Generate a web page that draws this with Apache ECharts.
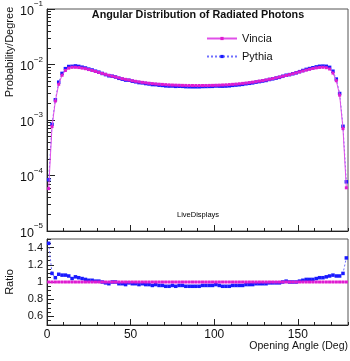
<!DOCTYPE html>
<html><head><meta charset="utf-8">
<script src="https://cdn.jsdelivr.net/npm/echarts@6/dist/echarts.min.js"></script>
<style>html,body{margin:0;padding:0;background:#fff}#c{width:350px;height:361px}</style>
</head><body><div id="c"></div>
<script>
const angles = [1,3,5,7,9,11,13,15,17,19,21,23,25,27,29,31,33,35,37,39,41,43,45,47,49,51,53,55,57,59,61,63,65,67,69,71,73,75,77,79,81,83,85,87,89,91,93,95,97,99,101,103,105,107,109,111,113,115,117,119,121,123,125,127,129,131,133,135,137,139,141,143,145,147,149,151,153,155,157,159,161,163,165,167,169,171,173,175,177,179];
const vincia = [5.8e-5,7.6e-4,2.2e-3,4.4e-3,6.4e-3,7.8e-3,8.6e-3,8.9e-3,8.9e-3,8.8e-3,8.6e-3,8.4e-3,8.1e-3,7.8e-3,7.5e-3,7.2e-3,6.9e-3,6.65e-3,6.4e-3,6.15e-3,5.95e-3,5.75e-3,5.55e-3,5.4e-3,5.25e-3,5.1e-3,4.98e-3,4.87e-3,4.77e-3,4.68e-3,4.6e-3,4.53e-3,4.47e-3,4.42e-3,4.38e-3,4.34e-3,4.3e-3,4.27e-3,4.25e-3,4.23e-3,4.21e-3,4.2e-3,4.19e-3,4.18e-3,4.18e-3,4.18e-3,4.18e-3,4.19e-3,4.2e-3,4.21e-3,4.23e-3,4.25e-3,4.28e-3,4.31e-3,4.35e-3,4.39e-3,4.44e-3,4.5e-3,4.57e-3,4.64e-3,4.72e-3,4.81e-3,4.91e-3,5.02e-3,5.14e-3,5.27e-3,5.42e-3,5.58e-3,5.75e-3,5.93e-3,6.13e-3,6.34e-3,6.57e-3,6.82e-3,7.08e-3,7.36e-3,7.64e-3,7.92e-3,8.2e-3,8.48e-3,8.7e-3,8.85e-3,8.9e-3,8.75e-3,8.3e-3,7.0e-3,5.1e-3,2.8e-3,7.0e-4,6.0e-5];
const pythia = [8.4e-5,8.36e-4,2.31e-3,4.8e-3,6.91e-3,8.42e-3,9.2e-3,9.26e-3,9.43e-3,9.24e-3,8.94e-3,8.65e-3,8.26e-3,7.96e-3,7.58e-3,7.27e-3,6.9e-3,6.58e-3,6.27e-3,6.15e-3,5.95e-3,5.64e-3,5.44e-3,5.24e-3,5.2e-3,5.0e-3,4.88e-3,4.72e-3,4.67e-3,4.54e-3,4.46e-3,4.35e-3,4.34e-3,4.24e-3,4.2e-3,4.12e-3,4.09e-3,4.1e-3,4.04e-3,4.06e-3,4.04e-3,3.99e-3,3.98e-3,3.97e-3,3.97e-3,3.97e-3,4.01e-3,4.02e-3,4.03e-3,4.04e-3,4.1e-3,4.08e-3,4.07e-3,4.09e-3,4.13e-3,4.21e-3,4.26e-3,4.32e-3,4.39e-3,4.5e-3,4.58e-3,4.67e-3,4.81e-3,4.92e-3,5.04e-3,5.16e-3,5.37e-3,5.52e-3,5.69e-3,5.87e-3,6.13e-3,6.4e-3,6.57e-3,6.82e-3,7.08e-3,7.43e-3,7.79e-3,8.16e-3,8.45e-3,8.73e-3,9.05e-3,9.29e-3,9.35e-3,9.28e-3,8.88e-3,7.56e-3,5.46e-3,3.0e-3,7.7e-4,7.7e-5];
const ratioPythia = [1.45,1.10,1.05,1.09,1.08,1.08,1.07,1.04,1.06,1.05,1.04,1.03,1.02,1.02,1.01,1.01,1.00,0.99,0.98,1.00,1.00,0.98,0.98,0.97,0.99,0.98,0.98,0.97,0.98,0.97,0.97,0.96,0.97,0.96,0.96,0.95,0.95,0.96,0.95,0.96,0.96,0.95,0.95,0.95,0.95,0.95,0.96,0.96,0.96,0.96,0.97,0.96,0.95,0.95,0.95,0.96,0.96,0.96,0.96,0.97,0.97,0.97,0.98,0.98,0.98,0.98,0.99,0.99,0.99,0.99,1.00,1.01,1.00,1.00,1.00,1.01,1.02,1.03,1.03,1.03,1.04,1.05,1.05,1.06,1.07,1.08,1.07,1.07,1.10,1.28];
const ratioVincia = vincia.map(v => v / v);
const xLabels = [0, 50, 100, 150];
const decadeTicks = [1e-5,1e-4,1e-3,1e-2,1e-1];
const minorLogTicks = [2e-5,3e-5,4e-5,5e-5,6e-5,7e-5,8e-5,9e-5,2e-4,3e-4,4e-4,5e-4,6e-4,7e-4,8e-4,9e-4,2e-3,3e-3,4e-3,5e-3,6e-3,7e-3,8e-3,9e-3,2e-2,3e-2,4e-2,5e-2,6e-2,7e-2,8e-2,9e-2];
const ratioLabels = [0.6,0.8,1,1.2,1.4];
const ratioMinor = [0.5,0.55,0.65,0.7,0.75,0.85,0.9,0.95,1.05,1.1,1.15,1.25,1.3,1.35,1.45,1.5];

const FONT = 'Liberation Sans';
const MAG = '#e01cd0', BLUE = '#1a1aff';
const pairs = (ys) => angles.map((a, i) => [a, ys[i]]);
const chart = echarts.init(document.getElementById('c'), null, {renderer: 'canvas'});
const axisLineStyle = {color: '#222', width: 1};
const expo = v => {
  const e = Math.round(Math.log10(v));
  return '{b|10}{e|' + (e < 0 ? '\u2212' + (-e) : e) + '}';
};
const xAxisBase = (grid, showLabels) => ({
  gridIndex: grid, type: 'value', position: 'bottom', min: 0, max: 180, interval: 10,
  axisLine: {onZero: false, lineStyle: axisLineStyle},
  axisLabel: {show: showLabels, customValues: xLabels, fontSize: 12, color: '#111', margin: 4, fontFamily: FONT},
  axisTick: {inside: true, length: 3, lineStyle: {color: '#222'}},
  splitLine: {show: false}
});
const xMajor = (grid) => ({
  gridIndex: grid, type: 'value', position: 'bottom', min: 0, max: 180,
  axisLine: {show: false, onZero: false}, axisLabel: {show: false}, splitLine: {show: false},
  axisTick: {inside: true, length: 6, customValues: xLabels, lineStyle: {color: '#222'}}
});
chart.setOption({
  animation: false,
  textStyle: {fontFamily: FONT},
  grid: [
    {left: 47, top: 5, width: 301, height: 226, show: true, borderColor: '#555', borderWidth: 1},
    {left: 47, top: 239, width: 301, height: 86, show: true, borderColor: '#555', borderWidth: 1}
  ],
  xAxis: [xAxisBase(0, false), xAxisBase(1, true), xMajor(0), xMajor(1)],
  yAxis: [
    {gridIndex: 0, type: 'log', position: 'left', logBase: 10, min: 1e-5, max: 1e-1,
     axisLine: {lineStyle: axisLineStyle},
     axisTick: {inside: true, length: 8, customValues: decadeTicks, lineStyle: {color: '#222'}},
     axisLabel: {customValues: decadeTicks, formatter: expo, margin: 4, color: '#111',
       rich: {b: {fontSize: 12.5, fontFamily: FONT, color: '#111', lineHeight: 18, verticalAlign: 'bottom'},
              e: {fontSize: 8, fontFamily: FONT, color: '#111', lineHeight: 18, verticalAlign: 'top'}}},
     splitLine: {show: false}},
    {gridIndex: 0, type: 'log', position: 'left', logBase: 10, min: 1e-5, max: 1e-1,
     axisLine: {show: false}, axisLabel: {show: false}, splitLine: {show: false},
     axisTick: {inside: true, length: 4, customValues: minorLogTicks, lineStyle: {color: '#222'}}},
    {gridIndex: 1, type: 'value', position: 'left', min: 0.5, max: 1.5,
     axisLine: {lineStyle: axisLineStyle},
     axisTick: {inside: true, length: 7, customValues: ratioLabels, lineStyle: {color: '#222'}},
     axisLabel: {customValues: ratioLabels, fontSize: 11, color: '#111', margin: 4, fontFamily: FONT},
     splitLine: {show: false}},
    {gridIndex: 1, type: 'value', position: 'left', min: 0.5, max: 1.5,
     axisLine: {show: false}, axisLabel: {show: false}, splitLine: {show: false},
     axisTick: {inside: true, length: 4, customValues: ratioMinor, lineStyle: {color: '#222'}}}
  ],
  legend: {
    orient: 'vertical', left: 201, top: 28, itemWidth: 30, itemHeight: 4, itemGap: 7,
    textStyle: {fontSize: 11, color: '#111', fontFamily: FONT},
    data: ['Vincia', 'Pythia']
  },
  series: [
    {name: 'Pythia', type: 'line', xAxisIndex: 0, yAxisIndex: 0, data: pairs(pythia),
     symbol: 'rect', symbolSize: 3.5, itemStyle: {color: BLUE},
     lineStyle: {color: '#7070ff', width: 1, type: [2, 2]}, z: 3},
    {name: 'Vincia', type: 'line', xAxisIndex: 0, yAxisIndex: 0, data: pairs(vincia),
     symbol: 'rect', symbolSize: 3, itemStyle: {color: MAG},
     lineStyle: {color: '#e050e8', width: 1}, z: 4},
    {name: 'PythiaRatio', type: 'line', xAxisIndex: 1, yAxisIndex: 2, data: pairs(ratioPythia),
     symbol: 'rect', symbolSize: 3.5, itemStyle: {color: BLUE},
     lineStyle: {color: '#7070ff', width: 1, type: [2, 2]}, z: 3},
    {name: 'VinciaRatio', type: 'line', xAxisIndex: 1, yAxisIndex: 2, data: pairs(ratioVincia),
     symbol: 'rect', symbolSize: 3, itemStyle: {color: MAG},
     lineStyle: {color: '#e050e8', width: 1}, z: 4}
  ],
  graphic: [
    {type: 'text', x: 198, y: 15, style: {text: 'Angular Distribution of Radiated Photons', font: 'bold 10.8px "Liberation Sans"', fill: '#111', textAlign: 'center', textVerticalAlign: 'middle'}},
    {type: 'text', x: 10, y: 52, rotation: Math.PI / 2, style: {text: 'Probability/Degree', font: '11px "Liberation Sans"', fill: '#111', textAlign: 'center', textVerticalAlign: 'middle'}},
    {type: 'text', x: 10, y: 282, rotation: Math.PI / 2, style: {text: 'Ratio', font: '11px "Liberation Sans"', fill: '#111', textAlign: 'center', textVerticalAlign: 'middle'}},
    {type: 'text', x: 348, y: 346, style: {text: 'Opening Angle (Deg)', font: '10.5px "Liberation Sans"', fill: '#111', textAlign: 'right', textVerticalAlign: 'middle'}},
    {type: 'text', x: 177, y: 215, style: {text: '{a|Live}{b|Displays}', textVerticalAlign: 'middle',
      rich: {a: {fontSize: 7.5, fontFamily: FONT, color: '#d2782a'}, b: {fontSize: 7.5, fontFamily: FONT, color: '#5a6a8a'}}}}
  ]
});
</script></body></html>
